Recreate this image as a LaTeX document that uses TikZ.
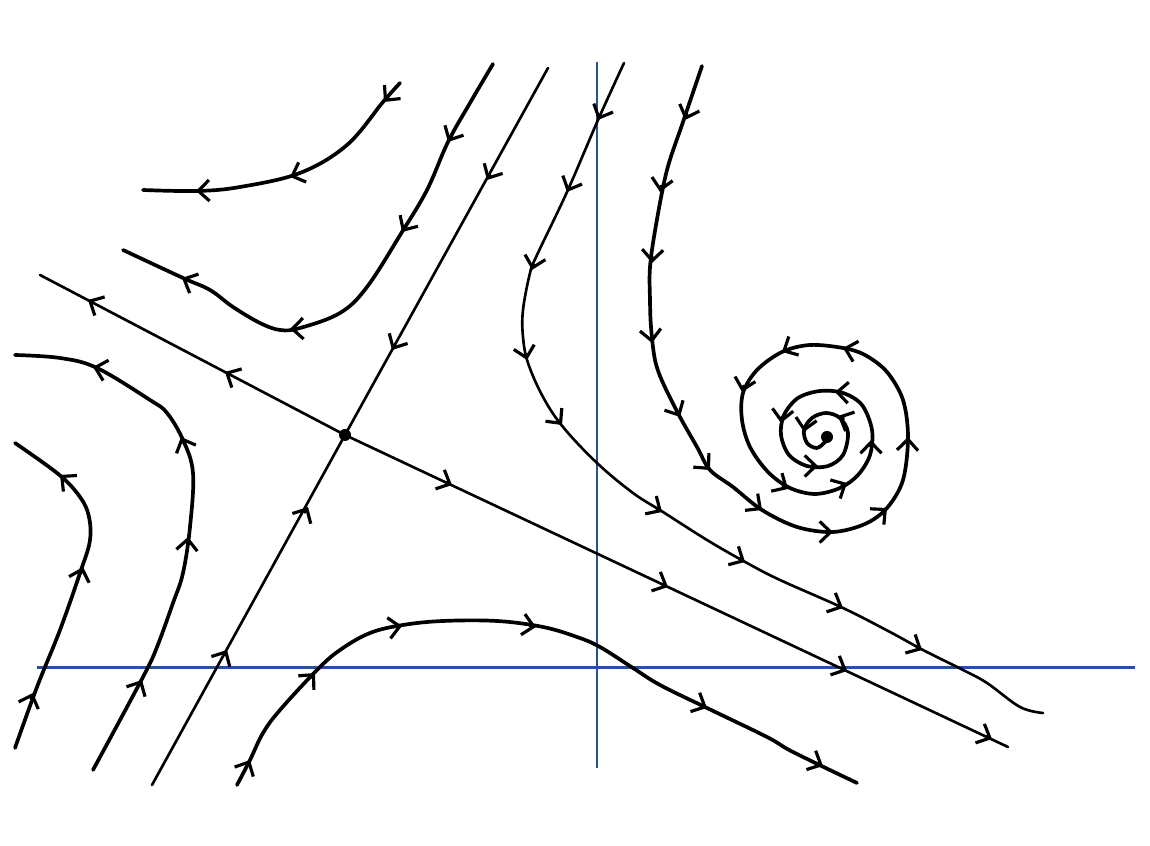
\documentclass[tikz,border=0pt]{standalone}
\usetikzlibrary{arrows.meta}
\definecolor{axisblue}{RGB}{40,80,160}

\begin{document}
\begin{tikzpicture}[x=0.1mm, y=-0.1mm, >={Straight Barb[length=1.1mm,width=2.1mm]},
    orbit/.style={line width=1.05pt, line cap=round, line join=round},
    thinorbit/.style={line width=0.75pt, line cap=round, line join=round},
    axis/.style={axisblue, line width=0.85pt},
    flowtip/.style={->, line width=0.9pt, line cap=round}]
  \useasboundingbox (0,0) rectangle (1150,846);
  % axes
  \draw[axis] (37,668) -- (1135,668);
  \draw[axis] (597,62) -- (597,768);
  % saddle and its separatrices
  \coordinate (saddle) at (345,435);
  \draw[thinorbit] (548,68) -- (saddle) -- (152,785);
  \draw[thinorbit] (40,275) -- (saddle) -- (1008,747);
  \fill (saddle) circle (6);
  % trajectories near the saddle
  \draw[orbit] plot[smooth, tension=0.6] coordinates {(400,83) (383,102) (347,145) (300,173) (240,187) (197,191) (143,190)};
  \draw[orbit] plot[smooth, tension=0.6] coordinates {(493,64) (470,103) (448,142) (427,190) (402,232) (367,287) (340,313) (300,328) (280,330) (260,323) (233,307) (210,290) (183,278) (123,250)};
  \draw[orbit] plot[smooth, tension=0.6] coordinates {(15,355) (60,358) (97,368) (150,400) (167,413) (183,440) (193,473) (190,527) (183,573) (173,603) (157,647) (143,677) (93,770)};
  \draw[orbit] plot[smooth, tension=0.6] coordinates {(15,443) (57,473) (77,493) (88,513) (90,540) (80,573) (60,630) (37,687) (15,748)};
  \draw[orbit] plot[smooth, tension=0.6] coordinates {(237,785) (250,760) (263,733) (280,710) (317,670) (340,650) (370,633) (403,625) (443,621) (497,621) (543,627) (577,637) (600,647) (633,668) (660,685) (707,708) (767,737) (793,752) (857,783)};
  \draw[thinorbit] plot[smooth, tension=0.6] coordinates {(624,63) (598,120) (567,192) (537,255) (530,273) (523,310) (523,337) (528,363) (543,397) (563,427) (597,463) (633,493) (663,512) (707,540) (747,563) (780,580) (843,608) (890,632) (923,650) (963,670) (987,683) (1020,707) (1043,713)};
  % spiral into the focus
  \coordinate (focus) at (827,437);
  \draw[orbit] plot[smooth, tension=0.55] coordinates {(702,66) (683,122) (667,170) (656,225) (650,267) (650,300) (651,327) (655,360) (663,383) (680,417) (697,447) (710,470) (733,487) (762,510) (797,527) (833,532) (865,524) (887,508) (903,480) (908,437) (903,400) (887,372) (865,355) (843,348) (810,345) (782,352) (757,370) (743,393) (742,420) (750,447) (768,472) (790,488) (815,494) (840,488) (858,475) (870,455) (872,430) (862,405) (843,393) (820,391) (798,398) (784,415) (781,435) (789,455) (807,466) (828,466) (843,455) (848,433) (840,418) (826,413) (812,418) (804,430) (807,443) (817,448) (826,441) (focus)};
  \fill (focus) circle (6);
  % direction of flow
  \foreach \x/\y/\a in {384/102/130, 290/177/159, 196/191/178,
      448/142/118, 402/232/122, 290/329/178, 182/278/205,
      487/180/119, 392/350/119, 308/507/-61, 227/650/-61,
      88/300/208, 225/372/208, 452/485/25, 668/587/25, 847/671/25, 992/739/25,
      93/367/195, 181/437/-113, 188/537/-85, 142/680/-62,
      60/475/-140, 83/567/-73, 33/693/-70,
      250/760/-63, 315/673/-48, 402/626/-9, 536/627/11, 707/708/26, 823/766/26,
      598/120/114, 567/192/114, 532/270/104, 527/360/77, 562/425/51, 662/512/32, 745/562/29, 843/608/25, 922/650/28,
      685/120/110, 660/192/100, 652/263/93, 652/343/83, 680/417/62, 710/470/48, 762/510/37,
      833/532/0, 887/508/-41, 908/437/-88, 843/348/195, 782/352/152, 742/392/104,
      788/489/31, 847/483/-28, 871/440/-90, 835/392/183, 781/423/98,
      818/466/0, 838/416/205, 804/432/100}
    \draw[flowtip] (\x,\y) ++({\a+180}:6) -- (\x,\y);
\end{tikzpicture}
\end{document}
